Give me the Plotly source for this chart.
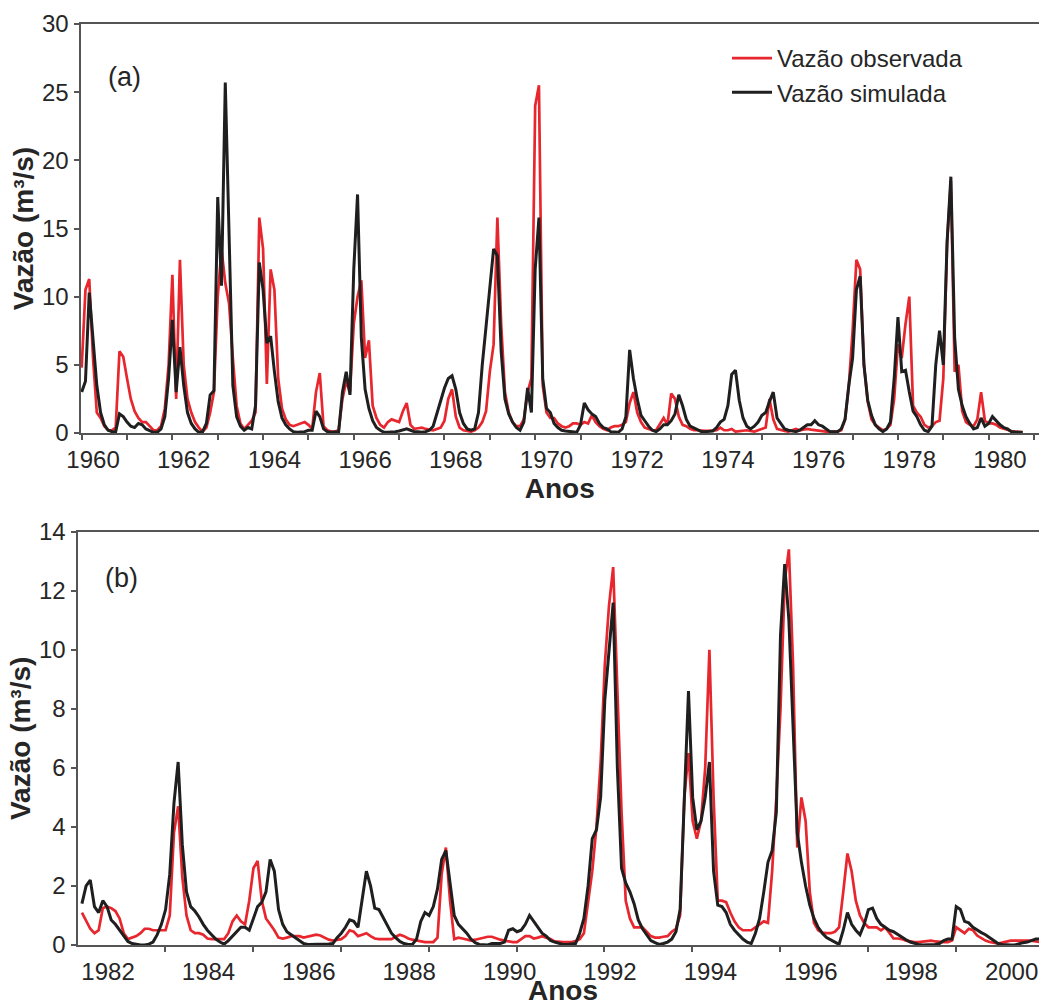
import plotly.graph_objects as go

# ---------------- data (monthly values, m3/s) ----------------
# Panel (a): monthly series starting Oct 1959
start_a = 1959.75
obs_a = [4.8, 10.5, 11.3, 5.5, 1.5, 1.1, 0.5, 0.2, 0.2, 0.4,
         6.0, 5.6, 4.0, 2.5, 1.6, 1.1, 0.8, 0.8, 0.5, 0.2,
         0.2, 0.5, 1.8, 5.0, 11.6, 2.5, 12.7, 5.0, 2.5, 1.5,
         0.8, 0.4, 0.1, 0.4, 1.5, 3.0, 10.0, 13.5, 11.0, 9.5,
         5.5, 2.0, 0.7, 0.3, 0.6, 0.9, 1.5, 15.8, 13.5, 3.6,
         12.0, 10.5, 4.0, 1.8, 1.0, 0.6, 0.5, 0.6, 0.7, 0.8,
         0.6, 0.3, 3.0, 4.4, 0.5, 0.2, 0.1, 0.1, 0.2, 2.5,
         3.8, 3.0, 8.0, 10.0, 11.2, 5.5, 6.8, 2.0, 1.1, 0.6,
         0.4, 0.8, 1.0, 0.9, 0.8, 1.6, 2.2, 0.6, 0.3, 0.35,
         0.4, 0.3, 0.25, 0.2, 0.3, 0.4, 0.9, 2.5, 3.2, 1.2,
         0.4, 0.2, 0.15, 0.1, 0.2, 0.4, 0.8, 1.6, 4.5, 6.5,
         15.8, 8.0, 3.0, 1.5, 0.8, 0.5, 0.5, 1.0, 3.0, 4.0,
         24.0, 25.5, 3.5, 1.5, 1.1, 1.1, 0.7, 0.5, 0.4, 0.5,
         0.7, 0.7, 0.6, 0.8, 0.7, 1.3, 0.8, 0.5, 0.3, 0.2,
         0.4, 0.5, 0.5, 0.6, 0.8, 2.2, 3.0, 1.5, 0.8, 0.4,
         0.3, 0.2, 0.2, 0.7, 1.1, 0.6, 2.9, 2.5, 1.2, 0.6,
         0.5, 0.3, 0.2, 0.2, 0.15, 0.15, 0.15, 0.15, 0.2, 0.4,
         0.2, 0.2, 0.3, 0.1, 0.15, 0.15, 0.2, 0.15, 0.1, 0.2,
         0.3, 0.4, 2.5, 1.0, 0.3, 0.2, 0.15, 0.1, 0.2, 0.3,
         0.2, 0.25, 0.3, 0.25, 0.2, 0.15, 0.1, 0.1, 0.1, 0.1,
         0.1, 0.2, 1.0, 3.5, 7.5, 12.7, 12.0, 5.0, 2.3, 1.0,
         0.6, 0.4, 0.2, 0.3, 0.6, 2.5, 6.5, 5.5, 8.0, 10.0,
         2.0, 1.5, 1.2, 0.6, 0.4, 0.5, 0.8, 0.9, 4.0, 14.0,
         18.5, 4.5, 5.0, 1.6, 0.8, 0.6, 0.5, 1.0, 3.0, 0.9,
         0.7, 0.7, 0.6, 0.4, 0.3, 0.2, 0.15, 0.1, 0.05, 0.05]
sim_a = [3.0, 3.8, 10.3, 7.0, 3.5, 1.5, 0.6, 0.2, 0.1, 0.1,
         1.4, 1.2, 0.8, 0.5, 0.4, 0.7, 0.6, 0.3, 0.2, 0.05,
         0.05, 0.3, 1.2, 4.0, 8.3, 3.0, 6.3, 3.5, 1.5, 0.7,
         0.3, 0.05, 0.1, 0.7, 2.8, 3.1, 17.3, 10.8, 25.7, 14.0,
         3.5, 1.2, 0.5, 0.2, 0.4, 0.3, 2.0, 12.5, 10.5, 6.6,
         7.1, 4.5, 2.3, 1.1, 0.6, 0.3, 0.1, 0.05, 0.05, 0.1,
         0.2, 0.2, 1.6, 1.2, 0.3, 0.1, 0.05, 0.05, 0.1, 3.0,
         4.5, 2.8, 12.0, 17.5, 7.0, 3.2, 1.8, 0.9, 0.4, 0.2,
         0.05, 0.05, 0.05, 0.1, 0.15, 0.25, 0.3, 0.2, 0.1, 0.1,
         0.05, 0.1, 0.2, 0.5, 1.5, 2.5, 3.3, 4.0, 4.2, 3.2,
         1.5, 0.7, 0.3, 0.2, 0.3, 1.5, 5.0, 7.8, 10.5, 13.5,
         13.0, 6.0, 2.5, 1.4, 0.8, 0.4, 0.2, 0.8, 3.3, 1.5,
         12.0, 15.8, 4.0, 1.8, 1.5, 0.7, 0.4, 0.2, 0.15, 0.1,
         0.1, 0.05, 0.6, 2.2, 1.7, 1.4, 1.2, 0.7, 0.4, 0.3,
         0.1, 0.05, 0.05, 0.3, 1.2, 6.1, 4.0, 2.5, 1.3, 0.9,
         0.5, 0.2, 0.1, 0.3, 0.6, 0.6, 0.9, 1.4, 2.8, 2.0,
         1.0, 0.5, 0.35, 0.2, 0.1, 0.1, 0.1, 0.15, 0.4, 0.8,
         1.0, 2.0, 4.3, 4.6, 2.4, 1.1, 0.5, 0.3, 0.5, 0.8,
         1.3, 1.5, 2.3, 3.0, 1.1, 0.7, 0.3, 0.2, 0.15, 0.1,
         0.2, 0.4, 0.6, 0.6, 0.9, 0.6, 0.5, 0.3, 0.1, 0.1,
         0.1, 0.3, 1.0, 3.5, 5.5, 10.5, 11.5, 5.0, 2.4, 1.3,
         0.6, 0.3, 0.1, 0.3, 0.8, 4.0, 8.5, 4.5, 4.6, 3.0,
         1.6, 1.2, 0.6, 0.2, 0.1, 0.5, 5.0, 7.5, 5.0, 14.0,
         18.8, 7.0, 3.2, 2.0, 1.2, 0.7, 0.3, 0.4, 1.1, 0.5,
         0.7, 1.2, 0.9, 0.6, 0.4, 0.3, 0.1, 0.05, 0.05, 0.05]

# Panel (b): monthly series starting mid 1981
start_b = 1981.48
obs_b = [1.1, 0.85, 0.55, 0.4, 0.5, 1.25, 1.3, 1.25, 1.15, 0.9,
         0.4, 0.2, 0.25, 0.3, 0.4, 0.55, 0.55, 0.5, 0.5, 0.5,
         0.5, 1.0, 3.8, 4.7, 2.3, 1.0, 0.5, 0.4, 0.4, 0.35,
         0.22, 0.2, 0.2, 0.2, 0.2, 0.4, 0.8, 1.0, 0.8, 0.7,
         1.5, 2.6, 2.85, 1.5, 0.9, 0.7, 0.5, 0.25, 0.22, 0.25,
         0.3, 0.3, 0.3, 0.25, 0.28, 0.3, 0.35, 0.32, 0.25, 0.18,
         0.15, 0.18, 0.2, 0.3, 0.5, 0.45, 0.3, 0.35, 0.4, 0.3,
         0.22, 0.2, 0.2, 0.2, 0.2, 0.28, 0.35, 0.3, 0.22, 0.18,
         0.15, 0.12, 0.1, 0.1, 0.1, 0.25, 2.4, 3.3, 1.5, 0.2,
         0.25, 0.22, 0.18, 0.15, 0.18, 0.22, 0.25, 0.28, 0.28, 0.22,
         0.18, 0.15, 0.12, 0.1, 0.1, 0.2, 0.3, 0.3, 0.22, 0.25,
         0.3, 0.25, 0.2, 0.12, 0.1, 0.1, 0.1, 0.1, 0.13, 0.2,
         0.4, 1.4, 2.5, 4.0, 6.2, 9.5, 11.5, 12.8, 8.5, 4.5,
         1.5, 0.9, 0.6, 0.6, 0.6, 0.45, 0.3, 0.25, 0.25, 0.28,
         0.3, 0.45, 0.55, 1.0, 5.0, 6.5, 4.2, 3.6, 4.2, 6.0,
         10.0, 5.0, 1.5, 1.5, 1.45, 1.1, 0.8, 0.6, 0.5, 0.5,
         0.5, 0.6, 0.7, 0.8, 0.75, 2.5, 5.0, 8.0, 12.3, 13.4,
         9.5, 3.3, 5.0, 4.2, 1.8, 0.75, 0.5, 0.42, 0.4, 0.4,
         0.45, 0.6, 1.8, 3.1, 2.5, 1.5, 1.0, 0.75, 0.6, 0.6,
         0.6, 0.5, 0.6, 0.42, 0.22, 0.22, 0.2, 0.15, 0.12, 0.1,
         0.1, 0.12, 0.15, 0.15, 0.12, 0.1, 0.1, 0.1, 0.15, 0.6,
         0.5, 0.4, 0.55, 0.5, 0.32, 0.22, 0.15, 0.1, 0.08, 0.05,
         0.08, 0.12, 0.15, 0.15, 0.15, 0.15, 0.15, 0.15, 0.12, 0.1]
sim_b = [1.4, 2.0, 2.2, 1.3, 1.1, 1.5, 1.3, 0.85, 0.7, 0.5,
         0.3, 0.12, 0.05, 0.02, 0.0, 0.0, 0.03, 0.1, 0.35, 0.7,
         1.2, 2.4, 4.8, 6.2, 3.4, 1.8, 1.3, 1.15, 0.95, 0.7,
         0.5, 0.35, 0.2, 0.1, 0.03, 0.15, 0.3, 0.45, 0.6, 0.6,
         0.5, 0.9, 1.3, 1.45, 1.8, 2.9, 2.5, 1.2, 0.7, 0.45,
         0.35, 0.25, 0.15, 0.05, 0.02, 0.02, 0.02, 0.02, 0.02, 0.03,
         0.05, 0.25, 0.4, 0.6, 0.85, 0.8, 0.6, 1.6, 2.5, 2.0,
         1.25, 1.2, 0.95, 0.7, 0.4, 0.25, 0.12, 0.05, 0.02, 0.02,
         0.2, 0.8, 1.1, 1.0, 1.3, 1.9, 2.9, 3.2, 2.0, 1.0,
         0.7, 0.55, 0.4, 0.2, 0.08, 0.02, 0.0, 0.0, 0.05, 0.05,
         0.05, 0.1, 0.5, 0.55, 0.45, 0.5, 0.7, 1.0, 0.8, 0.6,
         0.4, 0.3, 0.15, 0.1, 0.05, 0.02, 0.02, 0.03, 0.05, 0.4,
         0.9, 2.0, 3.6, 3.9, 5.0, 8.3, 10.0, 11.6, 6.0, 2.6,
         2.1, 1.8, 1.4, 0.85, 0.55, 0.35, 0.15, 0.08, 0.02, 0.05,
         0.1, 0.2, 0.45, 1.2, 5.0, 8.6, 5.0, 3.9, 4.2, 5.0,
         6.2, 2.5, 1.35, 1.3, 1.1, 0.7, 0.5, 0.35, 0.2, 0.1,
         0.05, 0.4, 0.9, 1.8, 2.8, 3.2, 4.5, 10.5, 12.9, 11.0,
         7.5, 3.8, 2.8, 2.0, 1.35, 0.9, 0.6, 0.4, 0.25, 0.18,
         0.1, 0.02, 0.5, 1.1, 0.7, 0.5, 0.35, 0.7, 1.2, 1.25,
         0.9, 0.7, 0.6, 0.5, 0.45, 0.35, 0.25, 0.18, 0.1, 0.05,
         0.02, 0.0, 0.0, 0.0, 0.02, 0.05, 0.15, 0.2, 0.2, 1.3,
         1.2, 0.8, 0.75, 0.6, 0.5, 0.42, 0.35, 0.25, 0.15, 0.05,
         0.02, 0.0, 0.0, 0.0, 0.05, 0.08, 0.1, 0.15, 0.2, 0.2]

x_a = [start_a + i / 12 for i in range(len(obs_a))]
x_b = [start_b + i / 12 for i in range(len(obs_b))]

labels_a = [1960, 1962, 1964, 1966, 1968, 1970, 1972, 1974, 1976, 1978, 1980]
labels_b = [1982, 1984, 1986, 1988, 1990, 1992, 1994, 1996, 1998, 2000]
yticks_a = [0, 5, 10, 15, 20, 25, 30]
yticks_b = [0, 2, 4, 6, 8, 10, 12, 14]

# ---------------- styling ----------------
W, H = 1039, 1007
RED = "#e8262e"
BLACK = "#1f1f1f"
AXIS = "#555555"
TXT = "#262626"
FONT = "Liberation Sans"

def px_x(p):
    return p / W

def px_y(p):
    return 1 - p / H

fig = go.Figure()
fig.add_trace(go.Scatter(x=x_a, y=obs_a, mode="lines", name="Vazão observada",
                         line=dict(color=RED, width=2.7), xaxis="x", yaxis="y"))
fig.add_trace(go.Scatter(x=x_a, y=sim_a, mode="lines", name="Vazão simulada",
                         line=dict(color=BLACK, width=3), xaxis="x", yaxis="y"))
fig.add_trace(go.Scatter(x=x_b, y=obs_b, mode="lines", name="Vazão observada",
                         line=dict(color=RED, width=2.7), xaxis="x2", yaxis="y2",
                         showlegend=False))
fig.add_trace(go.Scatter(x=x_b, y=sim_b, mode="lines", name="Vazão simulada",
                         line=dict(color=BLACK, width=3), xaxis="x2", yaxis="y2",
                         showlegend=False))

tickfont = dict(family=FONT, size=24, color=TXT)
titlefont = dict(family=FONT, size=28, color=TXT, weight="bold")

minor_a = [1959.75 + k for k in range(22)]
minor_b = [1981.39 + 1.75 * k for k in range(12)]

xa_common = dict(showgrid=False, zeroline=False, showline=True, linecolor=AXIS,
                 linewidth=2, mirror=True, ticks="outside", ticklen=4,
                 tickcolor="rgba(0,0,0,0)", tickfont=tickfont, automargin=False)
ya_common = dict(showgrid=False, zeroline=False, showline=True, linecolor=AXIS,
                 linewidth=2, ticks="outside", ticklen=5, tickcolor=AXIS,
                 tickwidth=1.5, tickfont=tickfont, automargin=False,
                 title=dict(text="Vazão (m³/s)", font=titlefont, standoff=0))

fig.update_layout(
    width=W, height=H,
    margin=dict(l=0, r=0, t=0, b=0, autoexpand=False),
    paper_bgcolor="white", plot_bgcolor="white",
    font=dict(family=FONT, color=TXT),
    xaxis=dict(xa_common, domain=[px_x(80.5), 1], range=[1959.724, 1980.86],
               tickmode="array", tickvals=labels_a, ticktext=[str(v) for v in labels_a],
               minor=dict(tickmode="array", tickvals=minor_a, ticks="outside",
                          ticklen=5, tickcolor=AXIS, tickwidth=1.5),
               title=dict(text="Anos", font=titlefont, standoff=6),
               anchor="y"),
    yaxis=dict(ya_common, domain=[px_y(433), px_y(24)], range=[0, 30],
               tickmode="array", tickvals=yticks_a, anchor="x"),
    xaxis2=dict(xa_common, domain=[px_x(77.5), 1], range=[1981.392, 2000.546],
                tickmode="array", tickvals=labels_b, ticktext=[str(v) for v in labels_b],
                minor=dict(tickmode="array", tickvals=minor_b, ticks="outside",
                           ticklen=5, tickcolor=AXIS, tickwidth=1.5),
                anchor="y2"),
    yaxis2=dict(ya_common, domain=[px_y(945), px_y(531.7)], range=[0, 14],
                tickmode="array", tickvals=yticks_b, anchor="x2"),
    legend=dict(x=px_x(727), y=px_y(36), xanchor="left", yanchor="top",
                font=dict(family=FONT, size=24, color=TXT),
                bgcolor="rgba(0,0,0,0)", tracegroupgap=0, itemwidth=40),
    annotations=[
        dict(text="(a)", x=px_x(124), y=px_y(77), xref="paper", yref="paper",
             xanchor="center", yanchor="middle",
             showarrow=False, font=dict(family=FONT, size=27, color=TXT)),
        dict(text="(b)", x=px_x(121), y=px_y(578), xref="paper", yref="paper",
             xanchor="center", yanchor="middle",
             showarrow=False, font=dict(family=FONT, size=27, color=TXT)),
        dict(text="Anos", x=px_x(563), y=px_y(990), xref="paper", yref="paper",
             xanchor="center", yanchor="middle",
             showarrow=False, font=titlefont),
    ],
)

fig.write_html("out.html")
